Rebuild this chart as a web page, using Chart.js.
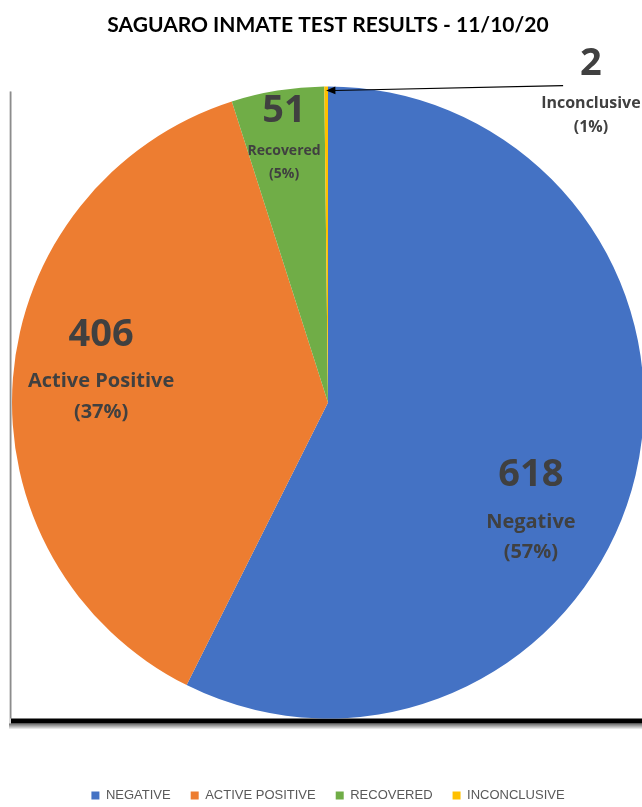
<!DOCTYPE html>
<html>
<head>
<meta charset="utf-8">
<script src="https://cdn.jsdelivr.net/npm/chart.js@4/dist/chart.umd.min.js"></script>
<style>
  html, body { margin: 0; padding: 0; background: #fff; overflow: hidden; }
  #wrap { width: 660px; height: 812px; }
</style>
</head>
<body>
<div id="wrap"><canvas id="pie" width="660" height="812"></canvas></div>
<script>
// chart data
const categories = ['NEGATIVE', 'ACTIVE POSITIVE', 'RECOVERED', 'INCONCLUSIVE'];
const sliceNames = ['Negative', 'Active Positive', 'Recovered', 'Inconclusive'];
const counts = [618, 406, 51, 2];
const percentLabels = ['(57%)', '(37%)', '(5%)', '(1%)'];
const sliceColors = ['#4472C4', '#ED7D31', '#70AD47', '#FFC000'];

// label placement, as fractions of the pie radius from its centre
const labelStyle = [
    { ux: 0.642, uy: 0.231, numSize: 38, txtSize: 20, nameDy: 47, pctDy: 77 },
    { ux: -0.718, uy: -0.212, numSize: 38, txtSize: 20, nameDy: 46, pctDy: 77 },
    { ux: -0.139, uy: -0.921, numSize: 38, txtSize: 14, nameDy: 40, pctDy: 63 },
    { ux: 0.832, uy: -1.07, numSize: 38, txtSize: 16, nameDy: 39, pctDy: 63 }
];

// frame with dark bottom shadow behind the pie
const framePlugin = {
    id: 'frame',
    beforeDatasetsDraw(chart) {
        const arc = chart.getDatasetMeta(0).data[0];
        const ctx = chart.ctx;
        const bottom = arc.y + arc.outerRadius;
        const left = arc.x - arc.outerRadius - 1;
        ctx.save();
        ctx.fillStyle = '#d8d8d8';
        ctx.fillRect(left - 2, arc.y - arc.outerRadius + 5, 2, bottom - arc.y + arc.outerRadius);
        ctx.fillStyle = '#8c8c8c';
        ctx.fillRect(left - 1, arc.y - arc.outerRadius + 5, 1.5, bottom - arc.y + arc.outerRadius - 5);
        ctx.fillStyle = '#000';
        ctx.fillRect(left, bottom, chart.width, 5);
        const g = ctx.createLinearGradient(0, bottom + 5, 0, bottom + 11);
        g.addColorStop(0, 'rgba(0,0,0,0.6)');
        g.addColorStop(1, 'rgba(0,0,0,0)');
        ctx.fillStyle = g;
        ctx.fillRect(left - 2, bottom + 5, chart.width, 6);
        ctx.restore();
    }
};

// value labels and the callout arrow for the tiny slice
const labelPlugin = {
    id: 'sliceLabels',
    afterDatasetsDraw(chart) {
        const meta = chart.getDatasetMeta(0);
        const ctx = chart.ctx;
        const first = meta.data[0];
        const cx = first.x, cy = first.y, r = first.outerRadius;
        ctx.save();
        ctx.fillStyle = '#404040';
        ctx.textAlign = 'center';
        ctx.textBaseline = 'middle';
        counts.forEach((v, i) => {
            const s = labelStyle[i];
            const x = cx + r * s.ux;
            const y = cy + r * s.uy;
            ctx.font = 'bold ' + s.numSize + 'px "Open Sans"';
            ctx.fillText(String(v), x, y);
            ctx.font = 'bold ' + s.txtSize + 'px "Open Sans"';
            ctx.fillText(sliceNames[i], x, y + s.nameDy);
            ctx.fillText(percentLabels[i], x, y + s.pctDy);
        });

        // arrow from the "2" callout to its slice
        const tiny = meta.data[3];
        const a = (tiny.startAngle + tiny.endAngle) / 2;
        const ex = cx + (r - 4) * Math.cos(a);
        const ey = cy + (r - 4) * Math.sin(a);
        const sx = cx + r * 0.744;
        const sy = cy - r * 1.003;
        ctx.strokeStyle = '#000';
        ctx.lineWidth = 1.2;
        ctx.beginPath();
        ctx.moveTo(sx, sy);
        ctx.lineTo(ex + 8, ey);
        ctx.stroke();
        const ang = Math.atan2(ey - sy, ex - sx);
        ctx.fillStyle = '#000';
        ctx.beginPath();
        ctx.moveTo(ex, ey);
        ctx.lineTo(ex - 10 * Math.cos(ang - 0.4), ey - 10 * Math.sin(ang - 0.4));
        ctx.lineTo(ex - 10 * Math.cos(ang + 0.4), ey - 10 * Math.sin(ang + 0.4));
        ctx.closePath();
        ctx.fill();
        ctx.restore();
    }
};

const ctx = document.getElementById('pie').getContext('2d');
new Chart(ctx, {
    type: 'pie',
    data: {
        labels: categories,
        datasets: [{
            data: counts,
            backgroundColor: sliceColors,
            borderWidth: 0
        }]
    },
    options: {
        responsive: false,
        devicePixelRatio: 1,
        animation: false,
        layout: {
            padding: { left: 12, right: 16, top: 0, bottom: 0 }
        },
        plugins: {
            title: {
                display: true,
                text: 'SAGUARO INMATE TEST RESULTS - 11/10/20',
                color: '#000',
                font: { family: 'Lato', size: 21, weight: 'bold', lineHeight: 1 },
                padding: { top: 15, bottom: 0 }
            },
            legend: {
                position: 'bottom',
                labels: {
                    boxWidth: 8,
                    boxHeight: 8,
                    padding: 20,
                    color: '#595959',
                    font: { family: 'Liberation Sans', size: 13 }
                }
            },
            tooltip: { enabled: false }
        }
    },
    plugins: [framePlugin, labelPlugin]
});
</script>
</body>
</html>
